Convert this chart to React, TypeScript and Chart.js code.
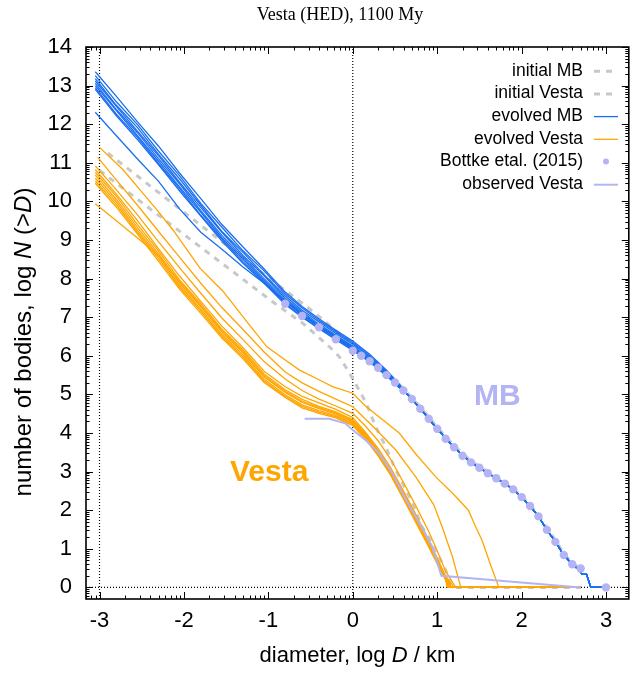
import React, { useEffect, useRef } from "react";
import { Chart, registerables } from "chart.js";

Chart.register(...registerables);

const W = 633;
const H = 678;
const SANS = "'Liberation Sans', Arial, Helvetica, sans-serif";
const SERIF = "'Liberation Serif', 'Times New Roman', serif";

const BLUE = "#1a6ef0";
const ORANGE = "#ffa500";
const GRAY = "#c8c8c8";
const LAVENDER = "#b4b4f4";

// ---------- axes ----------
const X_TICKS = [-3, -2, -1, 0, 1, 2, 3];
const Y_TICKS = [0, 1, 2, 3, 4, 5, 6, 7, 8, 9, 10, 11, 12, 13, 14];
const X_RANGE = [-3.16, 3.27];
const Y_RANGE = [-0.3, 14];

// ---------- evolved MB (blue) ----------
const MB_HEAD_X = [-3.05, -2.8, -2.55, -2.3, -2.05, -1.8, -1.55, -1.3, -1.05, -0.8, -0.6, -0.4, -0.2, 0, 0.2, 0.4, 0.55];
const MB1 = [13.36, 12.72, 12.06, 11.43, 10.73, 10.07, 9.4, 8.82, 8.25, 7.65, 7.28, 6.96, 6.66, 6.38, 6.04, 5.63, 5.27];
const MB2 = [13.26, 12.58, 11.99, 11.3, 10.66, 9.95, 9.33, 8.72, 8.2, 7.6, 7.24, 6.92, 6.62, 6.34, 6.0, 5.6, 5.25];
const MB3 = [13.18, 12.49, 11.91, 11.22, 10.58, 9.9, 9.22, 8.68, 8.1, 7.55, 7.18, 6.88, 6.58, 6.3, 5.97, 5.58, 5.24];
const MB4 = [13.12, 12.46, 11.82, 11.18, 10.49, 9.84, 9.2, 8.6, 8.07, 7.49, 7.14, 6.82, 6.53, 6.25, 5.93, 5.55, 5.22];
const MB5 = [13.06, 12.38, 11.78, 11.1, 10.45, 9.76, 9.12, 8.55, 8.0, 7.45, 7.1, 6.78, 6.5, 6.22, 5.9, 5.53, 5.2];
const MB6 = [13.0, 12.35, 11.7, 11.04, 10.37, 9.72, 9.06, 8.5, 7.95, 7.4, 7.06, 6.75, 6.47, 6.19, 5.88, 5.51, 5.19];
const MB7 = [12.95, 12.26, 11.66, 10.98, 10.33, 9.64, 9.02, 8.44, 7.92, 7.36, 7.02, 6.72, 6.44, 6.16, 5.86, 5.5, 5.18];
const MB8 = [12.9, 12.22, 11.6, 10.95, 10.27, 9.62, 8.97, 8.4, 7.88, 7.33, 7.0, 6.7, 6.42, 6.14, 5.84, 5.48, 5.17];
const MB9 = [12.31, 11.7, 11.1, 10.52, 9.8, 9.2, 8.76, 8.3, 7.88, 7.42, 7.08, 6.77, 6.49, 6.2, 5.89, 5.52, 5.2];
const MB_TAIL_X = [0.6, 0.7, 0.8, 0.9, 1.0, 1.1, 1.2, 1.3, 1.4, 1.5, 1.6, 1.7, 1.8, 1.9, 2.0, 2.1, 2.2, 2.3, 2.4, 2.5, 2.6, 2.68, 2.72, 2.77, 2.82, 3.0];
const MB_TAIL_Y = [5.1, 4.88, 4.63, 4.37, 4.11, 3.86, 3.63, 3.42, 3.24, 3.1, 2.96, 2.83, 2.69, 2.54, 2.34, 2.11, 1.84, 1.49, 1.18, 0.84, 0.6, 0.45, 0.34, 0.34, 0.0, 0.0];

// ---------- evolved Vesta (orange) ----------
const V_X = [-3.05, -2.8, -2.55, -2.3, -2.05, -1.8, -1.55, -1.3, -1.05, -0.8, -0.6, -0.4, -0.2, 0, 0.15, 0.3, 0.45, 0.6, 0.75, 0.9, 1.0, 1.1];
const V3 = [10.92, 10.3, 9.65, 8.95, 8.28, 7.62, 6.98, 6.42, 5.85, 5.4, 5.1, 4.88, 4.7, 4.51, 4.18, 3.8, 3.32, 2.72, 2.1, 1.45, 0.95, 0.42];
const V4 = [10.82, 10.19, 9.5, 8.77, 8.06, 7.41, 6.77, 6.21, 5.6, 5.2, 4.95, 4.78, 4.61, 4.4, 4.02, 3.6, 3.1, 2.5, 1.88, 1.23, 0.76, 0.29];
const V5 = [10.75, 10.13, 9.4, 8.71, 7.96, 7.35, 6.69, 6.15, 5.53, 5.12, 4.87, 4.69, 4.55, 4.34, 3.98, 3.55, 3.05, 2.46, 1.83, 1.2, 0.74, 0.27];
const V6 = [10.68, 10.05, 9.32, 8.64, 7.88, 7.27, 6.61, 6.08, 5.45, 5.05, 4.79, 4.63, 4.49, 4.29, 3.93, 3.5, 3.0, 2.4, 1.78, 1.15, 0.7, 0.25];
const V7 = [10.6, 9.99, 9.25, 8.58, 7.82, 7.21, 6.55, 6.02, 5.39, 4.99, 4.73, 4.58, 4.45, 4.25, 3.9, 3.47, 2.97, 2.36, 1.74, 1.11, 0.67, 0.23];
const V8 = [10.53, 9.92, 9.2, 8.52, 7.77, 7.16, 6.5, 5.97, 5.35, 4.95, 4.69, 4.54, 4.42, 4.22, 3.87, 3.44, 2.93, 2.32, 1.7, 1.08, 0.64, 0.21];
const V9 = [10.47, 9.85, 9.15, 8.45, 7.72, 7.1, 6.46, 5.92, 5.31, 4.92, 4.65, 4.51, 4.39, 4.19, 3.84, 3.41, 2.9, 2.29, 1.67, 1.05, 0.61, 0.19];
const V10 = [9.94, 9.5, 9.05, 8.6, 7.92, 7.3, 6.66, 6.1, 5.48, 5.08, 4.82, 4.66, 4.52, 4.32, 3.96, 3.53, 3.03, 2.43, 1.8, 1.17, 0.72, 0.27];
const V_END_X = [1.22, 1.2, 1.17, 1.15, 1.14, 1.13, 1.12, 1.16];
const V_LARGEST_X = 2.7;
const V1_X = [-3.0, -2.72, -2.52, -2.32, -2.13, -1.81, -1.54, -1.26, -1.02, -0.87, -0.63, -0.4, -0.24, 0, 0.15, 0.31, 0.55, 0.75, 0.98, 1.2, 1.37, 1.45, 1.53, 1.63, 1.73, 2.7];
const V1_Y = [11.4, 10.82, 10.3, 9.78, 9.26, 8.27, 7.68, 6.9, 6.24, 6.0, 5.63, 5.38, 5.2, 5.03, 4.7, 4.42, 4.0, 3.45, 2.87, 2.4, 2.0, 1.6, 1.23, 0.6, 0, 0];
const V2_X = [-3.02, -2.8, -2.55, -2.3, -2.05, -1.8, -1.55, -1.3, -1.05, -0.8, -0.6, -0.4, -0.2, 0, 0.25, 0.51, 0.75, 0.96, 1.07, 1.18, 1.28, 2.7];
const V2_Y = [11.14, 10.55, 9.9, 9.22, 8.55, 7.88, 7.25, 6.68, 6.1, 5.58, 5.3, 5.08, 4.88, 4.68, 4.15, 3.56, 2.85, 2.14, 1.5, 0.8, 0, 0];

// ---------- initial SFDs (gray dashed) ----------
const INIT_MB_X = [-2.9, -2.0, -1.12, -0.89, -0.65, -0.4, -0.2, 0.0, 0.2, 0.4, 0.6, 0.8, 1.0, 1.2, 1.4, 1.6, 1.8, 2.0, 2.2, 2.4, 2.5, 2.6, 2.7];
const INIT_MB_Y = [11.25, 9.72, 8.23, 7.84, 7.45, 7.02, 6.65, 6.3, 5.95, 5.58, 5.15, 4.68, 4.15, 3.67, 3.28, 3.0, 2.72, 2.38, 1.88, 1.22, 0.88, 0.62, 0.5];
const INIT_V_X = [-3.0, -2.36, -1.42, -0.95, -0.59, -0.28, -0.16, -0.06, 0.02, 0.16, 0.27, 0.39, 0.49, 0.59, 0.71, 0.82, 0.92, 1.02, 1.1, 1.16, 1.2, 2.7];
const INIT_V_Y = [10.8, 9.74, 8.18, 7.4, 6.84, 6.24, 5.98, 5.63, 5.33, 4.77, 4.17, 3.65, 3.13, 2.7, 2.18, 1.57, 1.23, 0.8, 0.45, 0.1, 0, 0];

// ---------- observations ----------
const BOTTKE_X = [-0.8, -0.6, -0.4, -0.2, 0.0, 0.1, 0.2, 0.3, 0.4, 0.5, 0.6, 0.7, 0.8, 0.9, 1.0, 1.1, 1.2, 1.3, 1.4, 1.5, 1.6, 1.7, 1.8, 1.9, 2.0, 2.1, 2.2, 2.3, 2.4, 2.5, 2.6, 2.7, 3.0];
const BOTTKE_Y = [7.35, 7.03, 6.74, 6.43, 6.13, 6.0, 5.86, 5.69, 5.5, 5.31, 5.1, 4.88, 4.63, 4.37, 4.11, 3.85, 3.63, 3.41, 3.24, 3.1, 2.96, 2.83, 2.69, 2.54, 2.34, 2.11, 1.84, 1.49, 1.18, 0.84, 0.6, 0.49, 0.0];
const OBS_V_X = [-0.57, -0.28, -0.09, 0.0, 0.15, 0.31, 0.47, 0.63, 0.79, 0.94, 1.05, 2.7];
const OBS_V_Y = [4.37, 4.37, 4.25, 4.08, 3.82, 3.48, 2.96, 2.27, 1.66, 1.06, 0.3, 0.0];

// ---------- reference lines ----------
const REF_VLINES = [-3, 0];
const REF_HLINE = 0;

const LEGEND_LABELS = ["initial MB", "initial Vesta", "evolved MB", "evolved Vesta", "Bottke etal. (2015)", "observed Vesta"];

const pts = (xs: number[], ys: number[]) => xs.map((x, i) => ({ x, y: ys[i] }));

function lineDs(data: any[], color: string, width: number, order: number, dash: number[] = []) {
  return {
    data,
    showLine: true,
    borderColor: color,
    borderWidth: width,
    borderDash: dash,
    pointRadius: 0,
    pointHoverRadius: 0,
    tension: 0,
    fill: false,
    order,
  };
}

const framePlugin = {
  id: "gnuframe",
  afterDatasetsDraw(chart: any) {
    const { ctx, chartArea: a, scales } = chart;
    const xs = scales.x;
    const ys = scales.y;
    ctx.save();
    ctx.strokeStyle = "#000";
    ctx.lineWidth = 1;
    const major = 7;
    const minor = 3.5;
    const tickX = (v: number, len: number) => {
      const p = Math.round(xs.getPixelForValue(v)) + 0.5;
      ctx.beginPath();
      ctx.moveTo(p, a.bottom);
      ctx.lineTo(p, a.bottom - len);
      ctx.moveTo(p, a.top);
      ctx.lineTo(p, a.top + len);
      ctx.stroke();
    };
    const tickY = (v: number, len: number) => {
      const p = Math.round(ys.getPixelForValue(v)) + 0.5;
      ctx.beginPath();
      ctx.moveTo(a.left, p);
      ctx.lineTo(a.left + len, p);
      ctx.moveTo(a.right, p);
      ctx.lineTo(a.right - len, p);
      ctx.stroke();
    };
    for (let n = Math.floor(X_RANGE[0]) - 1; n <= X_RANGE[1]; n++) {
      for (let k = 2; k <= 9; k++) {
        const v = n + Math.log10(k);
        if (v > X_RANGE[0] && v < X_RANGE[1]) tickX(v, minor);
      }
    }
    X_TICKS.forEach((v) => tickX(v, major));
    for (let n = Math.floor(Y_RANGE[0]) - 1; n <= Y_RANGE[1]; n++) {
      for (let k = 2; k <= 9; k++) {
        const v = n + Math.log10(k);
        if (v > Y_RANGE[0] && v < Y_RANGE[1]) tickY(v, minor);
      }
    }
    Y_TICKS.forEach((v) => tickY(v, major));
    ctx.lineWidth = 1.6;
    ctx.strokeRect(a.left, a.top, a.right - a.left, a.bottom - a.top);
    ctx.restore();
  },
  afterDraw(chart: any) {
    const { ctx, chartArea: a } = chart;
    ctx.save();
    ctx.fillStyle = "#000";
    // title
    ctx.font = `18px ${SERIF}`;
    ctx.textAlign = "center";
    ctx.textBaseline = "alphabetic";
    ctx.fillText("Vesta (HED), 1100 My", 340, 20);

    // mixed-font text helper
    const drawRuns = (runs: [string, boolean][], size: number, cx: number, cy: number, rot: number) => {
      ctx.save();
      ctx.translate(cx, cy);
      ctx.rotate(rot);
      ctx.textAlign = "left";
      ctx.textBaseline = "alphabetic";
      let total = 0;
      const widths = runs.map(([t, it]) => {
        ctx.font = `${it ? "italic " : ""}${size}px ${SANS}`;
        const w = ctx.measureText(t).width;
        total += w;
        return w;
      });
      let x = -total / 2;
      runs.forEach(([t, it], i) => {
        ctx.font = `${it ? "italic " : ""}${size}px ${SANS}`;
        ctx.fillText(t, x, 0);
        x += widths[i];
      });
      ctx.restore();
    };
    drawRuns([["diameter, log ", false], ["D", true], [" / km", false]], 22, (a.left + a.right) / 2, 662, 0);
    drawRuns([["number of bodies, log ", false], ["N", true], [" (>", false], ["D", true], [")", false]], 24, 31, 342, -Math.PI / 2);

    // legend
    const styles = chart.data.datasets;
    const legendSamples = [styles[0], styles[1], styles[2], styles[11], styles[styles.length - 1], styles[styles.length - 2]];
    ctx.font = `17.5px ${SANS}`;
    ctx.textAlign = "right";
    ctx.textBaseline = "middle";
    LEGEND_LABELS.forEach((label, i) => {
      const y = 70.7 + i * 22.7;
      ctx.fillStyle = "#000";
      ctx.fillText(label, 583, y);
      const ds = legendSamples[i];
      if (ds.showLine) {
        ctx.save();
        ctx.strokeStyle = ds.borderColor;
        ctx.lineWidth = ds.borderWidth;
        ctx.setLineDash(ds.borderDash || []);
        ctx.beginPath();
        ctx.moveTo(594, y + 0.5);
        ctx.lineTo(618, y + 0.5);
        ctx.stroke();
        ctx.restore();
      } else {
        ctx.fillStyle = ds.backgroundColor;
        ctx.beginPath();
        ctx.arc(606, y, 3, 0, Math.PI * 2);
        ctx.fill();
      }
    });

    // in-plot labels
    ctx.textAlign = "left";
    ctx.textBaseline = "alphabetic";
    ctx.font = `bold 30px ${SANS}`;
    ctx.fillStyle = LAVENDER;
    ctx.fillText("MB", 474, 405);
    ctx.fillStyle = ORANGE;
    ctx.fillText("Vesta", 230, 481);
    ctx.restore();
  },
};

export default function App() {
  const ref = useRef<HTMLCanvasElement>(null);
  useEffect(() => {
    const canvas = ref.current;
    if (!canvas) return;
    const mbHeads = [MB1, MB2, MB3, MB4, MB5, MB6, MB7, MB8, MB9];
    const vBundle = [V3, V4, V5, V6, V7, V8, V9, V10];
    const tail = pts(MB_TAIL_X, MB_TAIL_Y);

    const datasets: any[] = [];
    datasets.push(lineDs(pts(INIT_MB_X, INIT_MB_Y), GRAY, 3, 6, [6, 6]));
    datasets.push(lineDs(pts(INIT_V_X, INIT_V_Y), GRAY, 3, 6, [6, 6]));
    mbHeads.forEach((ys) => datasets.push(lineDs([...pts(MB_HEAD_X, ys), ...tail], BLUE, 1.3, 3)));
    datasets.push(lineDs(pts(V1_X, V1_Y), ORANGE, 1.3, 4));
    datasets.push(lineDs(pts(V2_X, V2_Y), ORANGE, 1.3, 4));
    vBundle.forEach((ys, i) =>
      datasets.push(lineDs([...pts(V_X, ys), { x: V_END_X[i], y: 0 }, { x: V_LARGEST_X, y: 0 }], ORANGE, 1.3, 4))
    );
    REF_VLINES.forEach((v) =>
      datasets.push(lineDs([{ x: v, y: Y_RANGE[0] }, { x: v, y: Y_RANGE[1] }], "#000", 1.2, 8, [1, 2]))
    );
    datasets.push(lineDs([{ x: X_RANGE[0], y: REF_HLINE }, { x: X_RANGE[1], y: REF_HLINE }], "#000", 1.2, 8, [1, 2]));
    datasets.push(lineDs(pts(OBS_V_X, OBS_V_Y), LAVENDER, 2, 1));
    datasets.push({
      data: pts(BOTTKE_X, BOTTKE_Y),
      showLine: false,
      pointRadius: 4.2,
      pointHoverRadius: 4.2,
      pointBorderWidth: 0,
      backgroundColor: LAVENDER,
      borderColor: LAVENDER,
      order: 0,
    });

    const chart = new Chart(canvas, {
      type: "scatter",
      data: { datasets },
      options: {
        animation: false,
        responsive: false,
        devicePixelRatio: 1,
        events: [],
        layout: { padding: { left: 0, right: 2.3, top: 47, bottom: 0 } },
        plugins: { legend: { display: false }, tooltip: { enabled: false }, title: { display: false } },
        scales: {
          x: {
            type: "linear",
            min: X_RANGE[0],
            max: X_RANGE[1],
            afterBuildTicks: (s: any) => {
              s.ticks = X_TICKS.map((v) => ({ value: v }));
            },
            afterFit: (s: any) => {
              s.height = 79;
            },
            ticks: {
              autoSkip: false,
              maxRotation: 0,
              padding: 9,
              color: "#000",
              font: { family: SANS, size: 22 },
              callback: (v: any) => String(v),
            },
            grid: { display: false, drawTicks: false },
            border: { display: false },
          },
          y: {
            type: "linear",
            min: Y_RANGE[0],
            max: Y_RANGE[1],
            afterBuildTicks: (s: any) => {
              s.ticks = Y_TICKS.map((v) => ({ value: v }));
            },
            afterFit: (s: any) => {
              s.width = 86;
            },
            ticks: {
              autoSkip: false,
              padding: 14,
              color: "#000",
              font: { family: SANS, size: 22 },
              callback: (v: any) => String(v),
            },
            grid: { display: false, drawTicks: false },
            border: { display: false },
          },
        },
      } as any,
      plugins: [framePlugin],
    });
    return () => chart.destroy();
  }, []);
  return (
    <div style={{ position: "fixed", left: 0, top: 0, width: W, height: H, background: "#fff" }}>
      <canvas ref={ref} width={W} height={H} style={{ width: W, height: H, display: "block" }} />
    </div>
  );
}
